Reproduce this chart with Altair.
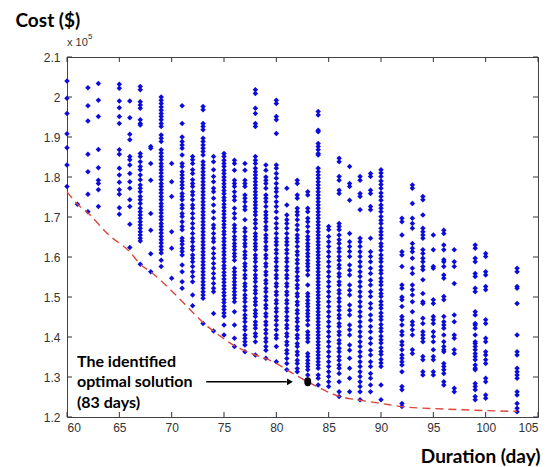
import altair as alt
import pandas as pd

# ---- scatter data: cost (x 10^5 $) of each solution, per duration (days) ----
cost_60 = [2.04, 1.997, 1.959, 1.908, 1.873, 1.83, 1.776]
cost_61 = [1.732]
cost_62 = [2.023, 1.978, 1.94, 1.857, 1.813, 1.757, 1.713]
cost_63 = [2.034, 1.992, 1.951, 1.869, 1.823, 1.792, 1.784, 1.768, 1.726]
cost_65 = [2.032, 2.022, 1.99, 1.973, 1.951, 1.934, 1.868, 1.857, 1.822, 1.805,
           1.787, 1.768, 1.757, 1.723, 1.707]
cost_66 = [1.99, 1.948, 1.907, 1.893, 1.851, 1.843, 1.83, 1.809, 1.788, 1.772,
           1.743, 1.726, 1.682, 1.624]
cost_67 = [2.026, 2.018, 1.988, 1.98, 1.972, 1.943, 1.934, 1.93, 1.859, 1.851,
           1.838, 1.826, 1.818, 1.805, 1.793, 1.78, 1.772, 1.763, 1.751, 1.743,
           1.734, 1.722, 1.713, 1.705, 1.697, 1.688, 1.68, 1.672, 1.663, 1.655,
           1.647, 1.64, 1.582]
cost_68 = [1.876, 1.872, 1.834, 1.792, 1.709, 1.667, 1.608, 1.563]
cost_69 = [2.0, 1.992, 1.984, 1.975, 1.967, 1.959, 1.951, 1.943, 1.934, 1.926,
           1.905, 1.897, 1.889, 1.868, 1.86, 1.851, 1.843, 1.834, 1.826, 1.818,
           1.81, 1.801, 1.793, 1.784, 1.776, 1.768, 1.76, 1.751, 1.743, 1.734,
           1.726, 1.718, 1.71, 1.701, 1.693, 1.684, 1.676, 1.668, 1.66, 1.651,
           1.643, 1.635, 1.626, 1.618, 1.61, 1.592, 1.576]
cost_70 = [1.834, 1.788, 1.751, 1.663, 1.622, 1.547]
cost_71 = [1.978, 1.934, 1.9, 1.889, 1.88, 1.872, 1.855, 1.834, 1.826, 1.813,
           1.805, 1.797, 1.788, 1.78, 1.772, 1.759, 1.751, 1.743, 1.73, 1.722,
           1.709, 1.701, 1.688, 1.676, 1.668, 1.647, 1.64, 1.632, 1.622, 1.614,
           1.605, 1.58, 1.563, 1.538, 1.522]
cost_72 = [1.851, 1.843, 1.834, 1.818, 1.809, 1.793, 1.784, 1.776, 1.763, 1.755,
           1.743, 1.73, 1.722, 1.709, 1.697, 1.684, 1.672, 1.659, 1.647, 1.638,
           1.626, 1.618, 1.605, 1.597, 1.588, 1.576, 1.563, 1.551, 1.538, 1.505,
           1.478]
cost_73 = [1.976, 1.968, 1.934, 1.926, 1.918, 1.897, 1.889, 1.88, 1.872, 1.864,
           1.855, 1.838, 1.83, 1.822, 1.813, 1.805, 1.797, 1.788, 1.78, 1.772,
           1.763, 1.755, 1.747, 1.738, 1.73, 1.722, 1.713, 1.705, 1.697, 1.688,
           1.68, 1.672, 1.663, 1.655, 1.647, 1.638, 1.63, 1.622, 1.613, 1.605,
           1.597, 1.588, 1.58, 1.572, 1.563, 1.555, 1.547, 1.538, 1.53, 1.522,
           1.513, 1.505, 1.497, 1.434]
cost_74 = [1.851, 1.838, 1.818, 1.801, 1.788, 1.772, 1.763, 1.747, 1.73, 1.713,
           1.697, 1.68, 1.672, 1.659, 1.647, 1.638, 1.622, 1.609, 1.597, 1.584,
           1.572, 1.559, 1.547, 1.534, 1.522, 1.513, 1.459, 1.415]
cost_75 = [1.859, 1.851, 1.842, 1.834, 1.826, 1.817, 1.809, 1.8, 1.792, 1.783,
           1.775, 1.766, 1.758, 1.749, 1.741, 1.732, 1.724, 1.715, 1.707, 1.698,
           1.69, 1.681, 1.673, 1.664, 1.656, 1.647, 1.639, 1.63, 1.622, 1.613,
           1.605, 1.596, 1.588, 1.579, 1.571, 1.562, 1.554, 1.545, 1.537, 1.528,
           1.52, 1.511, 1.503, 1.494, 1.486, 1.477, 1.469, 1.46, 1.452, 1.43,
           1.405]
cost_76 = [1.842, 1.834, 1.817, 1.792, 1.784, 1.776, 1.763, 1.751, 1.742, 1.722,
           1.709, 1.697, 1.68, 1.672, 1.663, 1.651, 1.643, 1.634, 1.626, 1.618,
           1.609, 1.601, 1.592, 1.572, 1.563, 1.555, 1.547, 1.538, 1.53, 1.522,
           1.513, 1.505, 1.497, 1.488, 1.463, 1.43, 1.397, 1.376]
cost_77 = [1.834, 1.817, 1.792, 1.784, 1.776, 1.755, 1.747, 1.738, 1.726, 1.718,
           1.693, 1.672, 1.663, 1.651, 1.643, 1.634, 1.626, 1.614, 1.605, 1.597,
           1.584, 1.576, 1.567, 1.555, 1.547, 1.534, 1.526, 1.517, 1.505, 1.497,
           1.488, 1.476, 1.467, 1.455, 1.447, 1.438, 1.426, 1.418, 1.405, 1.397,
           1.388, 1.38, 1.363]
cost_78 = [2.018, 2.009, 1.972, 1.959, 1.934, 1.926, 1.851, 1.842, 1.834, 1.822,
           1.813, 1.805, 1.797, 1.788, 1.78, 1.772, 1.763, 1.755, 1.747, 1.738,
           1.73, 1.722, 1.713, 1.705, 1.693, 1.684, 1.672, 1.659, 1.651, 1.643,
           1.634, 1.626, 1.618, 1.605, 1.597, 1.588, 1.576, 1.567, 1.555, 1.547,
           1.538, 1.526, 1.517, 1.509, 1.497, 1.488, 1.48, 1.467, 1.459, 1.451,
           1.438, 1.43, 1.422, 1.409, 1.401, 1.388, 1.355]
cost_79 = [1.83, 1.817, 1.8, 1.792, 1.784, 1.772, 1.755, 1.747, 1.738, 1.726,
           1.713, 1.705, 1.697, 1.688, 1.676, 1.668, 1.655, 1.647, 1.638, 1.626,
           1.618, 1.605, 1.597, 1.584, 1.576, 1.563, 1.555, 1.542, 1.534, 1.522,
           1.513, 1.501, 1.492, 1.48, 1.472, 1.459, 1.451, 1.438, 1.43, 1.418,
           1.409, 1.397, 1.388, 1.376, 1.367, 1.347]
cost_80 = [1.992, 1.984, 1.951, 1.943, 1.909, 1.83, 1.822, 1.809, 1.797, 1.784,
           1.772, 1.763, 1.751, 1.738, 1.726, 1.713, 1.697, 1.684, 1.672, 1.659,
           1.647, 1.638, 1.63, 1.618, 1.609, 1.597, 1.588, 1.576, 1.567, 1.555,
           1.547, 1.534, 1.526, 1.513, 1.505, 1.492, 1.484, 1.472, 1.463, 1.451,
           1.442, 1.43, 1.418, 1.405, 1.397, 1.376, 1.338]
cost_81 = [1.772, 1.73, 1.705, 1.693, 1.684, 1.672, 1.659, 1.647, 1.638, 1.63,
           1.618, 1.609, 1.597, 1.588, 1.576, 1.567, 1.555, 1.547, 1.534, 1.526,
           1.513, 1.505, 1.492, 1.484, 1.472, 1.463, 1.451, 1.442, 1.43, 1.422,
           1.409, 1.401, 1.388, 1.38, 1.367, 1.359, 1.346, 1.334, 1.318]
cost_82 = [1.792, 1.784, 1.755, 1.747, 1.722, 1.713, 1.705, 1.693, 1.68, 1.668,
           1.655, 1.647, 1.638, 1.626, 1.614, 1.605, 1.593, 1.584, 1.572, 1.563,
           1.551, 1.542, 1.53, 1.522, 1.509, 1.501, 1.488, 1.48, 1.467, 1.459,
           1.447, 1.438, 1.426, 1.418, 1.405, 1.397, 1.384, 1.376, 1.363, 1.355,
           1.342, 1.334, 1.321, 1.313]
cost_83 = [1.763, 1.755, 1.722, 1.713, 1.697, 1.688, 1.676, 1.663, 1.651, 1.643,
           1.634, 1.626, 1.618, 1.609, 1.601, 1.592, 1.584, 1.576, 1.567, 1.555,
           1.53, 1.509, 1.501, 1.492, 1.484, 1.476, 1.467, 1.459, 1.451, 1.442,
           1.43, 1.413, 1.405, 1.397, 1.388, 1.359, 1.351, 1.342, 1.334, 1.326,
           1.318, 1.305]
cost_84 = [1.964, 1.955, 1.917, 1.913, 1.884, 1.876, 1.868, 1.859, 1.855, 1.822,
           1.813, 1.805, 1.797, 1.788, 1.78, 1.772, 1.763, 1.755, 1.747, 1.738,
           1.73, 1.722, 1.713, 1.705, 1.697, 1.688, 1.68, 1.672, 1.663, 1.655,
           1.647, 1.638, 1.63, 1.622, 1.613, 1.605, 1.597, 1.588, 1.58, 1.572,
           1.563, 1.555, 1.547, 1.538, 1.53, 1.522, 1.513, 1.505, 1.497, 1.488,
           1.48, 1.472, 1.463, 1.455, 1.447, 1.438, 1.43, 1.422, 1.413, 1.405,
           1.397, 1.388, 1.38, 1.372, 1.363, 1.355, 1.347, 1.338, 1.33, 1.322,
           1.305, 1.297, 1.28]
cost_85 = [1.676, 1.668, 1.651, 1.638, 1.626, 1.613, 1.601, 1.588, 1.576, 1.563,
           1.551, 1.538, 1.526, 1.513, 1.501, 1.488, 1.476, 1.463, 1.451, 1.438,
           1.426, 1.413, 1.401, 1.388, 1.376, 1.363, 1.351, 1.338, 1.326, 1.313,
           1.301, 1.288, 1.276]
cost_86 = [1.847, 1.838, 1.801, 1.792, 1.767, 1.759, 1.684, 1.676, 1.668, 1.655,
           1.643, 1.634, 1.622, 1.613, 1.601, 1.592, 1.58, 1.572, 1.559, 1.551,
           1.538, 1.53, 1.517, 1.509, 1.497, 1.488, 1.476, 1.467, 1.455, 1.447,
           1.434, 1.426, 1.413, 1.405, 1.392, 1.384, 1.372, 1.363, 1.351, 1.342,
           1.33, 1.322, 1.309, 1.288, 1.263, 1.251]
cost_87 = [1.826, 1.784, 1.776, 1.742, 1.659, 1.638, 1.626, 1.614, 1.601, 1.58,
           1.567, 1.555, 1.53, 1.517, 1.505, 1.48, 1.467, 1.455, 1.43, 1.418,
           1.405, 1.38, 1.367, 1.347, 1.322, 1.297, 1.263]
cost_88 = [1.801, 1.792, 1.759, 1.751, 1.718, 1.647, 1.638, 1.626, 1.613, 1.601,
           1.588, 1.576, 1.563, 1.551, 1.538, 1.526, 1.513, 1.501, 1.488, 1.476,
           1.463, 1.451, 1.438, 1.426, 1.413, 1.401, 1.388, 1.376, 1.363, 1.351,
           1.338, 1.326, 1.313, 1.301, 1.288, 1.276, 1.263, 1.243]
cost_89 = [1.809, 1.801, 1.767, 1.759, 1.726, 1.718, 1.647, 1.613, 1.601, 1.588,
           1.572, 1.559, 1.542, 1.53, 1.513, 1.501, 1.484, 1.472, 1.455, 1.442,
           1.426, 1.413, 1.397, 1.384, 1.367, 1.355, 1.338, 1.326, 1.309, 1.297,
           1.28, 1.263]
cost_90 = [1.818, 1.81, 1.801, 1.79, 1.781, 1.772, 1.76, 1.751, 1.742, 1.73,
           1.722, 1.713, 1.701, 1.692, 1.684, 1.672, 1.663, 1.655, 1.646, 1.634,
           1.626, 1.617, 1.605, 1.596, 1.588, 1.576, 1.567, 1.559, 1.547, 1.538,
           1.53, 1.518, 1.509, 1.501, 1.489, 1.48, 1.472, 1.46, 1.451, 1.443,
           1.431, 1.422, 1.414, 1.402, 1.393, 1.385, 1.373, 1.364, 1.356, 1.344,
           1.335, 1.326, 1.28, 1.243]
cost_92 = [1.697, 1.688, 1.655, 1.613, 1.605, 1.576, 1.53, 1.522, 1.5, 1.493,
           1.476, 1.451, 1.443, 1.43, 1.414, 1.405, 1.388, 1.38, 1.368, 1.355,
           1.347, 1.338, 1.33, 1.313, 1.276, 1.268, 1.234, 1.226]
cost_93 = [1.78, 1.772, 1.734, 1.697, 1.684, 1.672, 1.634, 1.622, 1.613, 1.597,
           1.572, 1.559, 1.53, 1.518, 1.505, 1.488, 1.463, 1.438, 1.43, 1.418,
           1.405, 1.368, 1.359]
cost_94 = [1.751, 1.743, 1.705, 1.672, 1.663, 1.655, 1.647, 1.618, 1.609, 1.597,
           1.588, 1.576, 1.568, 1.543, 1.509, 1.488, 1.484, 1.447, 1.434, 1.413,
           1.405, 1.397, 1.388, 1.351, 1.343, 1.313, 1.305]
cost_95 = [1.655, 1.618, 1.576, 1.572, 1.493, 1.484, 1.451, 1.443, 1.434, 1.413,
           1.401, 1.388, 1.368, 1.351, 1.343, 1.313, 1.305]
cost_96 = [1.667, 1.659, 1.63, 1.618, 1.593, 1.588, 1.576, 1.555, 1.547, 1.501,
           1.493, 1.451, 1.438, 1.43, 1.422, 1.405, 1.388, 1.376, 1.368, 1.363,
           1.334, 1.326, 1.318, 1.309, 1.288, 1.28]
cost_97 = [1.618, 1.588, 1.576, 1.534, 1.455, 1.438, 1.405, 1.397, 1.368, 1.359,
           1.272, 1.263]
cost_99 = [1.63, 1.622, 1.597, 1.588, 1.559, 1.551, 1.522, 1.513, 1.463, 1.455,
           1.434, 1.43, 1.422, 1.405, 1.388, 1.384, 1.376, 1.368, 1.359, 1.351,
           1.343, 1.33, 1.322, 1.318, 1.284, 1.276, 1.268, 1.251, 1.243]
cost_100 = [1.609, 1.601, 1.563, 1.555, 1.526, 1.518, 1.443, 1.434, 1.397, 1.388,
            1.363, 1.355, 1.343, 1.334, 1.297, 1.288, 1.255, 1.247]
cost_103 = [1.572, 1.563, 1.526, 1.522, 1.484, 1.405, 1.363, 1.355, 1.322, 1.313,
            1.305, 1.297, 1.263, 1.255, 1.234, 1.222, 1.213]

# ---- Pareto front (red dashed line) ----
front_days = [60, 61, 62, 64, 66, 67, 68, 70, 72, 73, 74, 76, 78, 79, 80, 81,
              83, 86, 88, 90, 92, 96, 100, 103]
front_cost = [1.763, 1.732, 1.71, 1.655, 1.613, 1.582, 1.563, 1.515, 1.462, 1.436,
              1.415, 1.378, 1.355, 1.346, 1.334, 1.318, 1.288, 1.252, 1.242, 1.234,
              1.226, 1.22, 1.216, 1.214]

# ---- identified optimal solution ----
optimal_day = [83]
optimal_cost = [1.288]

# ---- annotation ----
note_lines = ["The identified", "optimal solution", "(83 days)"]
note_day = [60.95, 60.95, 60.95]
note_cost = [1.338, 1.287, 1.236]
arrow_days = [73.3, 81.0]
arrow_cost = [1.288, 1.288]
head_day = [81.3]

x_ticks = [60, 65, 70, 75, 80, 85, 90, 95, 100, 105]
y_ticks = [1.2, 1.3, 1.4, 1.5, 1.6, 1.7, 1.8, 1.9, 2.0, 2.1]

columns = {
    60: cost_60, 61: cost_61, 62: cost_62, 63: cost_63, 65: cost_65, 66: cost_66,
    67: cost_67, 68: cost_68, 69: cost_69, 70: cost_70, 71: cost_71, 72: cost_72,
    73: cost_73, 74: cost_74, 75: cost_75, 76: cost_76, 77: cost_77, 78: cost_78,
    79: cost_79, 80: cost_80, 81: cost_81, 82: cost_82, 83: cost_83, 84: cost_84,
    85: cost_85, 86: cost_86, 87: cost_87, 88: cost_88, 89: cost_89, 90: cost_90,
    92: cost_92, 93: cost_93, 94: cost_94, 95: cost_95, 96: cost_96, 97: cost_97,
    99: cost_99, 100: cost_100, 103: cost_103,
}
pts = pd.DataFrame([{"d": d, "c": c} for d, lst in columns.items() for c in lst])
front = pd.DataFrame({"d": front_days, "c": front_cost})
opt = pd.DataFrame({"d": optimal_day, "c": optimal_cost})
note = pd.DataFrame({"d": note_day, "c": note_cost, "t": note_lines})
arrow = pd.DataFrame({"d": [arrow_days[0]], "d2": [arrow_days[1]], "c": [arrow_cost[0]]})
head = pd.DataFrame({"d": head_day, "c": [arrow_cost[1]]})
xt = pd.DataFrame({"d": x_ticks})
yt = pd.DataFrame({"c": y_ticks})

W, H = 471, 360
xs = alt.Scale(domain=[60, 105], nice=False, zero=False)
ys = alt.Scale(domain=[1.2, 2.1], nice=False, zero=False)
LABEL_FONT = "Liberation Sans"
TITLE_FONT = "Lato"

x_axis = alt.Axis(values=x_ticks, ticks=False, domain=False, grid=False,
                  labelFont=LABEL_FONT, labelFontSize=12, labelColor="#333",
                  labelPadding=5, title="Duration (day)", titleFont=TITLE_FONT,
                  titleFontSize=19, titleFontWeight="bold", titleColor="#000",
                  titleAlign="right", titleBaseline="middle", titleX=W + 2, titleY=39)
y_axis = alt.Axis(values=y_ticks, ticks=False, domain=False, grid=False, format="~g",
                  labelFont=LABEL_FONT, labelFontSize=12, labelColor="#333",
                  labelPadding=7, title="Cost ($)", titleFont=TITLE_FONT,
                  titleFontSize=19, titleFontWeight="bold", titleColor="#000",
                  titleAngle=0, titleAlign="left", titleBaseline="middle",
                  titleX=-52, titleY=-37)

X = alt.X("d:Q", scale=xs, axis=x_axis)
Y = alt.Y("c:Q", scale=ys, axis=y_axis)

scatter = alt.Chart(pts).mark_point(shape="diamond", filled=True, size=30,
                                    color="#0b0bdc", opacity=1).encode(x=X, y=Y)

front_line = alt.Chart(front).mark_line(color="#d9483e", strokeDash=[8, 5],
                                        strokeWidth=1.4, interpolate="monotone").encode(x=X, y=Y)

ellipse = "M0,-1.3C0.75,-1.3 1,-0.7 1,0C1,0.7 0.75,1.3 0,1.3C-0.75,1.3 -1,0.7 -1,0C-1,-0.7 -0.75,-1.3 0,-1.3Z"
opt_pt = alt.Chart(opt).mark_point(shape=ellipse, filled=True, size=49,
                                   color="#000", opacity=1).encode(x=X, y=Y)

arrow_line = alt.Chart(arrow).mark_rule(color="#000", strokeWidth=1.6).encode(
    x=X, x2="d2:Q", y=Y)
arrow_head = alt.Chart(head).mark_point(shape="triangle-right", filled=True, size=45,
                                        color="#000", opacity=1).encode(x=X, y=Y)

note_text = alt.Chart(note).mark_text(align="left", baseline="middle", font=TITLE_FONT,
                                      fontSize=16, fontWeight="bold", color="#000").encode(
    x=X, y=Y, text="t:N")

tick_color = "#333"
bottom_ticks = alt.Chart(xt).mark_rule(color=tick_color).encode(
    x=X, y=alt.value(H), y2=alt.value(H - 5))
top_ticks = alt.Chart(xt).mark_rule(color=tick_color).encode(
    x=X, y=alt.value(0), y2=alt.value(5))
left_ticks = alt.Chart(yt).mark_rule(color=tick_color).encode(
    y=Y, x=alt.value(0), x2=alt.value(5))
right_ticks = alt.Chart(yt).mark_rule(color=tick_color).encode(
    y=Y, x=alt.value(W), x2=alt.value(W - 5))

exp_base = alt.Chart(pd.DataFrame({"t": ["x 10"]})).mark_text(
    align="left", baseline="middle", font=LABEL_FONT, fontSize=11, color="#333").encode(
    x=alt.value(0), y=alt.value(-14), text="t:N")
exp_sup = alt.Chart(pd.DataFrame({"t": ["5"]})).mark_text(
    align="left", baseline="middle", font=LABEL_FONT, fontSize=8, color="#333").encode(
    x=alt.value(21), y=alt.value(-20), text="t:N")

chart = alt.layer(
    scatter, front_line, opt_pt, arrow_line, arrow_head, note_text,
    bottom_ticks, top_ticks, left_ticks, right_ticks, exp_base, exp_sup,
).properties(
    width=W, height=H,
    autosize=alt.AutoSizeParams(type="none"),
    padding={"left": 67, "top": 57, "right": 18, "bottom": 50},
    background="white",
).configure_view(stroke="#444", strokeWidth=1)

chart.save("out.html", embed_options={"renderer": "svg", "actions": False})
